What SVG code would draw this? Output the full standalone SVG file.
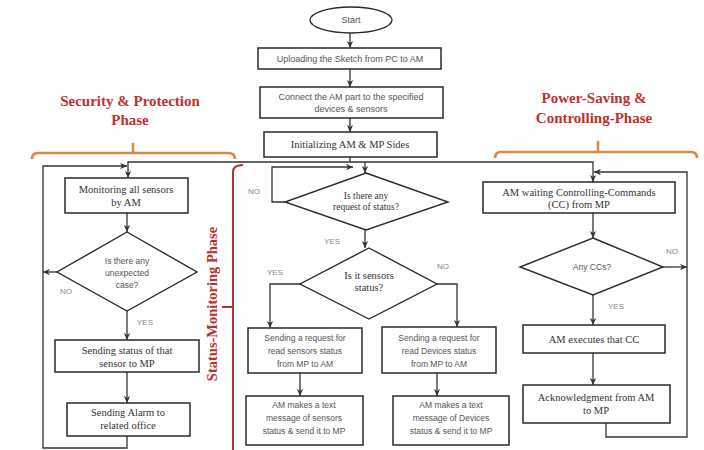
<svg xmlns="http://www.w3.org/2000/svg" width="704" height="450" viewBox="0 0 704 450">
<defs>
<style>
.box{fill:#fff;stroke:#2a2a2a;stroke-width:1.5}
.dia{fill:#fff;stroke:#2a2a2a;stroke-width:1.4}
.ln{fill:none;stroke:#333;stroke-width:1.3}
.sans{font-family:"Liberation Sans",Arial,sans-serif;font-size:8.5px;fill:#555;text-anchor:middle}
.serif{font-family:"Liberation Serif","Times New Roman",serif;font-size:10.5px;fill:#333;text-anchor:middle}
.lbl{font-family:"Liberation Sans",Arial,sans-serif;font-size:8px;fill:#888}
.title{font-family:"Liberation Serif","Times New Roman",serif;font-size:15px;font-weight:bold;fill:#c0302a;text-anchor:middle}
.orange{fill:none;stroke:#d88a45;stroke-width:2.6}
.red{fill:none;stroke:#b0343a;stroke-width:2}
</style>
<marker id="arr" viewBox="0 0 10 10" refX="10" refY="5" markerWidth="7" markerHeight="7" markerUnits="userSpaceOnUse" orient="auto">
<path d="M0,0.5 L10,5 L0,9.5 L3,5 z" fill="#333"/>
</marker>
</defs>
<rect width="704" height="450" fill="#fff"/>

<g id="phase-labels">
<text class="title" x="130" y="106">Security &amp; Protection</text>
<text class="title" x="130" y="125">Phase</text>
<path class="orange" d="M32,159 Q32,153 38,153 H228 Q235,153 235,159 M133,153 V143"/>
<text class="title" x="594" y="103">Power-Saving &amp;</text>
<text class="title" x="594" y="123">Controlling-Phase</text>
<path class="orange" d="M495,158 Q495,152 501,152 H691 Q697,152 697,158 M598,152 V141"/>
<text class="title" transform="translate(217,304) rotate(-90)" style="font-size:14.5px">Status-Monitoring Phase</text>
<path class="red" d="M243,165 Q233,165 233,172 V450 M233,307 H222"/>
</g>

<g id="connectors">
<path class="ln" d="M350,33 V48" marker-end="url(#arr)"/>
<path class="ln" d="M350,69 V87" marker-end="url(#arr)"/>
<path class="ln" d="M350,118 V132" marker-end="url(#arr)"/>
<path class="ln" d="M350,157 V162"/>
<path class="ln" d="M365,162 H128 V178" marker-end="url(#arr)"/>
<path class="ln" d="M365,162 H593 V182" marker-end="url(#arr)"/>
<path class="ln" d="M365,162 V173" marker-end="url(#arr)"/>
<path class="ln" d="M127,213 V232" marker-end="url(#arr)"/>
<path class="ln" d="M57,272 H43" marker-end="url(#arr)"/>
<path class="ln" d="M127,311 V340" marker-end="url(#arr)"/>
<path class="ln" d="M127,372 V403" marker-end="url(#arr)"/>
<path class="ln" d="M127,436 V448 H43 V166 H127" marker-end="url(#arr)"/>
<path class="ln" d="M285,202 H272 V167 H353" marker-end="url(#arr)"/>
<path class="ln" d="M365,230 V248" marker-end="url(#arr)"/>
<path class="ln" d="M300,284 H270 V328" marker-end="url(#arr)"/>
<path class="ln" d="M437,284 H457 V327" marker-end="url(#arr)"/>
<path class="ln" d="M300,373 V396" marker-end="url(#arr)"/>
<path class="ln" d="M437,373 V396" marker-end="url(#arr)"/>
<path class="ln" d="M593,213 V238" marker-end="url(#arr)"/>
<path class="ln" d="M663,267 H687" marker-end="url(#arr)"/>
<path class="ln" d="M593,295 V325" marker-end="url(#arr)"/>
<path class="ln" d="M593,353 V385" marker-end="url(#arr)"/>
<path class="ln" d="M606,423 V437 H687 V172 H594" marker-end="url(#arr)"/>
<text class="lbl" x="60" y="294">NO</text>
<text class="lbl" x="137" y="325">YES</text>
<text class="lbl" x="248" y="194">NO</text>
<text class="lbl" x="324" y="244">YES</text>
<text class="lbl" x="267" y="275">YES</text>
<text class="lbl" x="437" y="269">NO</text>
<text class="lbl" x="666" y="254">NO</text>
<text class="lbl" x="608" y="309">YES</text>
</g>

<g id="start">
<ellipse cx="351" cy="20" rx="41" ry="13" fill="#fff" stroke="#2a2a2a" stroke-width="1.4"/>
<text class="sans" x="351" y="23" style="font-size:9px">Start</text>
</g>
<g id="upload">
<rect class="box" x="258" y="48" width="183" height="21"/>
<text class="sans" x="350" y="62" style="font-size:9px">Uploading the Sketch from PC to AM</text>
</g>
<g id="connect">
<rect class="box" x="260" y="87" width="183" height="31"/>
<text class="sans" x="351" y="100" style="font-size:9px">Connect the AM part to the specified</text>
<text class="sans" x="351" y="112" style="font-size:9px">devices &amp; sensors</text>
</g>
<g id="init">
<rect class="box" x="264" y="132" width="173" height="25" stroke-width="1.8"/>
<text class="serif" x="350" y="148">Initializing AM &amp; MP Sides</text>
</g>

<g id="monitoring">
<rect class="box" x="65" y="178" width="123" height="35"/>
<text class="serif" x="126" y="193">Monitoring all sensors</text>
<text class="serif" x="126" y="206">by AM</text>
</g>
<g id="unexpected">
<polygon class="dia" points="127,232 197,272 127,311 57,272"/>
<text class="sans" x="127" y="264">Is there any</text>
<text class="sans" x="127" y="276">unexpected</text>
<text class="sans" x="127" y="288">case?</text>
</g>
<g id="send-status">
<rect class="box" x="55" y="340" width="144" height="32"/>
<text class="serif" x="127" y="354">Sending status of  that</text>
<text class="serif" x="127" y="367">sensor to MP</text>
</g>
<g id="alarm">
<rect class="box" x="67" y="403" width="123" height="33"/>
<text class="serif" x="128" y="416">Sending Alarm to</text>
<text class="serif" x="128" y="429">related office</text>
</g>

<g id="request">
<polygon class="dia" points="366,173 448,202 366,230 285,202"/>
<text class="serif" x="366" y="199" style="font-size:9.5px">Is there any</text>
<text class="serif" x="366" y="210" style="font-size:9.5px">request of status?</text>
</g>
<g id="sensors-status">
<polygon class="dia" points="369,248 437,284 369,319 300,284"/>
<text class="serif" x="369" y="279">Is it sensors</text>
<text class="serif" x="369" y="291">status?</text>
</g>
<g id="req-sensors">
<rect class="box" x="248" y="328" width="114" height="45"/>
<text class="sans" x="305" y="341">Sending a request for</text>
<text class="sans" x="305" y="354">read sensors status</text>
<text class="sans" x="305" y="367">from MP to AM</text>
</g>
<g id="req-devices">
<rect class="box" x="382" y="327" width="114" height="46"/>
<text class="sans" x="439" y="341">Sending a request for</text>
<text class="sans" x="439" y="354">read Devices status</text>
<text class="sans" x="439" y="367">from MP to AM</text>
</g>
<g id="msg-sensors">
<rect class="box" x="246" y="396" width="117" height="49"/>
<text class="sans" x="304" y="408">AM makes a text</text>
<text class="sans" x="304" y="421">message of sensors</text>
<text class="sans" x="304" y="434">status &amp; send it to MP</text>
</g>
<g id="msg-devices">
<rect class="box" x="393" y="396" width="116" height="49"/>
<text class="sans" x="451" y="408">AM makes a text</text>
<text class="sans" x="451" y="421">message of Devices</text>
<text class="sans" x="451" y="434">status &amp; send it to MP</text>
</g>

<g id="waiting">
<rect class="box" x="483" y="182" width="192" height="31"/>
<text class="serif" x="579" y="196">AM waiting Controlling-Commands</text>
<text class="serif" x="579" y="208">(CC) from MP</text>
</g>
<g id="any-cc">
<polygon class="dia" points="593,238 663,267 593,295 520,267"/>
<text class="sans" x="592" y="270">Any CCs?</text>
</g>
<g id="execute">
<rect class="box" x="523" y="325" width="142" height="28"/>
<text class="serif" x="594" y="343">AM executes that CC</text>
</g>
<g id="ack">
<rect class="box" x="523" y="385" width="147" height="38"/>
<text class="serif" x="596" y="401">Acknowledgment from AM</text>
<text class="serif" x="596" y="414">to MP</text>
</g>
</svg>
